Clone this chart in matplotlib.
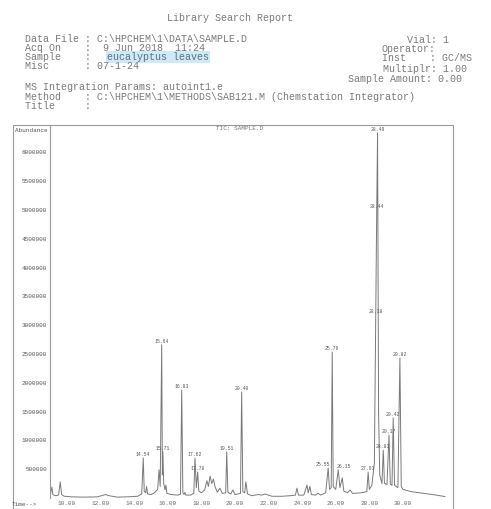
import matplotlib
matplotlib.use('Agg')
import matplotlib.pyplot as plt
from matplotlib.patches import Rectangle

# TIC trace (minutes, abundance)
rt = [9.00, 9.05, 9.10, 9.16, 9.30, 9.50, 9.60, 9.68, 9.85, 10.3, 11.0, 11.8,
      12.1, 12.3, 12.5, 13.0, 13.6, 14.2, 14.45, 14.54, 14.60, 14.68, 14.74, 14.80,
      15.00, 15.20, 15.40, 15.48, 15.55, 15.64, 15.68, 15.71, 15.76, 15.84, 15.89, 15.95,
      16.2, 16.6, 16.76, 16.83, 16.90, 16.97, 17.02, 17.08, 17.35, 17.55, 17.62, 17.70,
      17.78, 17.85, 18.0, 18.2, 18.33, 18.42, 18.52, 18.62, 18.72, 18.81, 18.95, 19.11,
      19.25, 19.45, 19.51, 19.58, 19.75, 19.88, 20.0, 20.33, 20.40, 20.47, 20.58, 20.65,
      20.75, 21.0, 21.4, 21.6, 21.8, 22.2, 22.8, 23.3, 23.60, 23.69, 23.78, 24.1,
      24.29, 24.36, 24.46, 24.55, 24.8, 24.94, 25.1, 25.40, 25.55, 25.63, 25.73, 25.79,
      25.85, 26.0, 26.15, 26.25, 26.39, 26.48, 26.7, 26.85, 27.0, 27.5, 27.85, 27.93,
      28.00, 28.15, 28.30, 28.38, 28.44, 28.49, 28.55, 28.62, 28.75, 28.83, 28.90, 29.05,
      29.17, 29.25, 29.35, 29.42, 29.50, 29.70, 29.82, 29.90, 30.0, 30.5, 31.0, 31.5,
      32.0, 32.5]
abund = [40000, 120000, 190000, 60000, 40000, 50000, 280000, 60000, 30000, 20000, 15000, 20000,
         45000, 60000, 40000, 15000, 20000, 30000, 70000, 694000, 120000, 90000, 200000, 70000,
         60000, 90000, 150000, 490000, 200000, 2660000, 400000, 800000, 250000, 140000, 225000, 80000,
         60000, 50000, 70000, 1875000, 90000, 60000, 100000, 50000, 50000, 80000, 694000, 180000,
         450000, 120000, 90000, 140000, 300000, 200000, 380000, 250000, 330000, 200000, 100000, 170000,
         80000, 90000, 800000, 100000, 70000, 140000, 60000, 80000, 1840000, 110000, 90000, 280000,
         70000, 40000, 60000, 50000, 70000, 30000, 30000, 40000, 50000, 170000, 50000, 50000,
         225000, 90000, 200000, 60000, 50000, 85000, 50000, 90000, 520000, 150000, 180000, 2530000,
         200000, 150000, 490000, 180000, 350000, 120000, 90000, 140000, 80000, 90000, 110000, 450000,
         150000, 220000, 600000, 3180000, 5000000, 6340000, 1500000, 400000, 250000, 830000, 260000, 230000,
         1090000, 240000, 220000, 1390000, 220000, 180000, 2430000, 200000, 150000, 110000, 90000, 70000,
         50000, 25000]

# peaks carrying a retention time label
labelled = [14.54, 15.64, 15.71, 16.83, 17.62, 17.78, 19.51, 20.40, 25.55, 25.79,
            26.15, 27.93, 28.38, 28.44, 28.49, 28.83, 29.17, 29.42, 29.82]

y_ticks = [500000 * i for i in range(1, 13)]
x_ticks = [10, 12, 14, 16, 18, 20, 22, 24, 26, 28, 30]

fig = plt.figure(figsize=(4.91, 5.09), dpi=100)
W, H = 491.0, 509.0
mono = ['Liberation Mono', 'DejaVu Sans Mono']
tc = '#7a7a7a'

def put(x, y, s, **kw):
    kw.setdefault('fontsize', 7.2)
    kw.setdefault('color', tc)
    fig.text(x / W, 1 - y / H, s, family=mono, va='center', **kw)

# header block
put(230, 18, 'Library Search Report', ha='center')
put(25, 39, r'Data File : C:\HPCHEM\1\DATA\SAMPLE.D')
put(25, 48, 'Acq On    :  9 Jun 2018  11:24')
put(25, 57, 'Sample    :')
put(107, 57, 'eucalyptus leaves', color='#5f6f7c',
    bbox=dict(boxstyle='square,pad=0.1', fc='#cfe9f7', ec='none'))
put(25, 66, 'Misc      : 07-1-24')
put(407, 40, 'Vial: 1')
put(382, 49, 'Operator:')
put(382, 58, 'Inst    : GC/MS')
put(383, 69, 'Multiplr: 1.00')
put(348, 79, 'Sample Amount: 0.00')
put(25, 87, 'MS Integration Params: autoint1.e')
put(25, 97, r'Method    : C:\HPCHEM\1\METHODS\SAB121.M (Chemstation Integrator)')
put(25, 106, 'Title     :')

# outer frame of the chromatogram
fig.patches.append(Rectangle((13 / W, -0.02), 440 / W, 0.02 + 1 - 125 / H,
                             transform=fig.transFigure, fill=False,
                             ec='#9a9a9a', lw=0.8))

ax = fig.add_axes([50 / W, 11 / H, 405 / W, (498 - 125) / H])
ax.plot(rt, abund, color='#7a7a7a', lw=0.7)
nudge = {25.55: -4, 26.15: 4}
for t in labelled:
    h = abund[rt.index(t)]
    ax.annotate('%.2f' % t, (t, h), xytext=(nudge.get(t, 0), 0.6),
                textcoords='offset points', ha='center', va='bottom',
                fontsize=3.4, family=mono, color='#555555')

ax.set_xlim(8.99, 33.1)
ax.set_ylim(0, 6.476e6)
ax.set_yticks(y_ticks)
ax.set_yticklabels([str(v) for v in y_ticks], fontsize=4.3, family=mono, color='#555555')
ax.set_xticks(x_ticks)
ax.set_xticklabels(['%.2f' % v for v in x_ticks], fontsize=4.3, family=mono, color='#666666')
ax.tick_params(axis='y', length=0, pad=2)
ax.tick_params(axis='x', length=0, pad=2.5)
for s in ['top', 'right', 'bottom']:
    ax.spines[s].set_visible(False)
ax.spines['left'].set_color('#9a9a9a')
ax.spines['left'].set_linewidth(0.8)
ax.patch.set_alpha(0)

put(15, 131, 'Abundance', fontsize=4.3, color='#555555')
put(240, 129, 'TIC: SAMPLE.D', fontsize=4.3, ha='center', color='#777777')
put(12, 505, 'Time-->', fontsize=4.3, color='#555555')

fig.savefig('out.png', dpi=100)
